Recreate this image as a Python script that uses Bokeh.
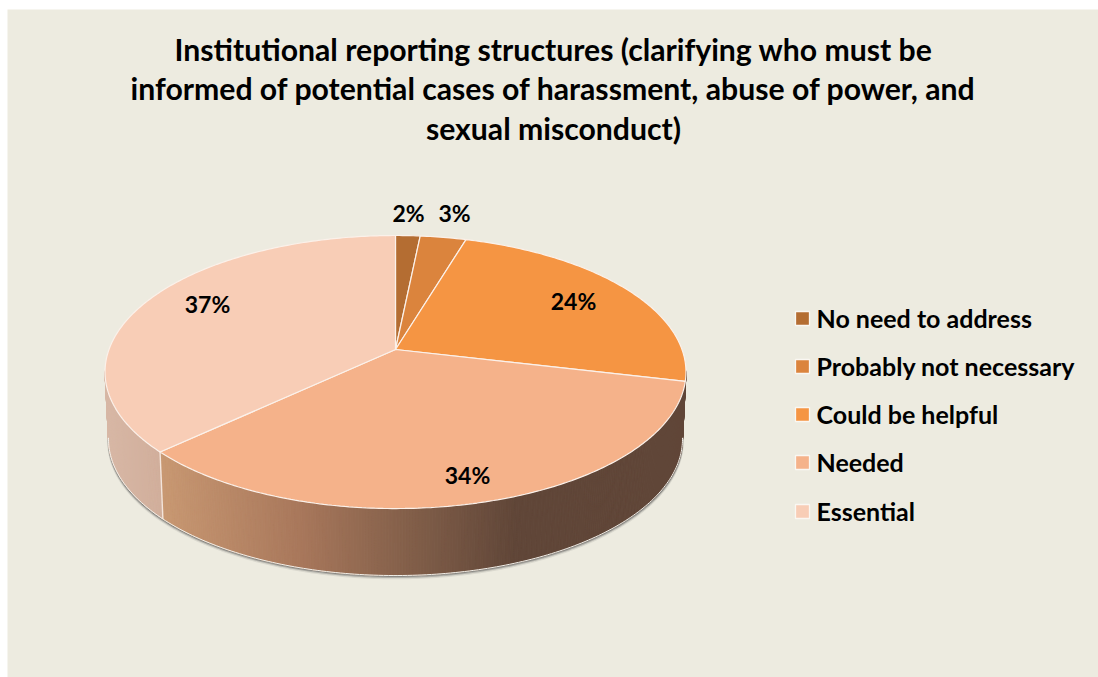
import numpy as np
from bokeh.models import Range1d
from bokeh.plotting import figure
from bokeh.embed import file_html
from bokeh.resources import INLINE
from bokeh.core.properties import value

# ---- chart data ----
categories = ["No need to address", "Probably not necessary", "Could be helpful", "Needed", "Essential"]
percent_labels = [2, 3, 24, 34, 37]
shares = [1.6, 3.0, 24.1, 34.3, 37.0]   # unrounded shares
colors = ["#B46D32", "#DB843D", "#F59543", "#F5B28A", "#F8CDB6"]
title_lines = [
    "Institutional reporting structures (clarifying who must be",
    "informed of potential cases of harassment, abuse of power, and",
    "sexual misconduct)",
]

# ---- layout ----
W, H = 1098, 677
BG = "#EDEBE0"
FONT = "Lato"
APEX_X, APEX_Y = 395.0, 349.0      # centre of the pie
A, B, K = 286.5, 132.8, 0.165      # perspective parameters of the tilted disc
DEPTH = 67.0
SHRINK = 0.988                     # lower rim is slightly smaller than the top one
LEFT, TOP = 7, 9                   # white strip left of and above the panel

p = figure(width=W, height=H, output_backend="svg", toolbar_location=None,
           x_range=Range1d(LEFT, W), y_range=Range1d(H, TOP),
           background_fill_color=BG, border_fill_color="#FFFFFF",
           min_border_left=LEFT, min_border_top=TOP, min_border_right=0, min_border_bottom=0,
           outline_line_color=None)
p.axis.visible = False
p.grid.visible = False


def rim(theta, dy=0.0, shrink=1.0):
    """Project an angle (clockwise from the top) on to the disc's edge."""
    d = 1 + K * np.cos(theta)
    return APEX_X + shrink * A * np.sin(theta) / d, APEX_Y + dy + B * (-np.cos(theta)) / d


def mix(stops, x):
    xs = [s[0] for s in stops]
    c = [np.interp(x, xs, [s[1][i] for s in stops]) for i in range(3)]
    return "#%02X%02X%02X" % tuple(int(round(v)) for v in c)


fractions = np.array(shares, float) / sum(shares)
edges = np.concatenate([[0.0], np.cumsum(fractions)]) * 2 * np.pi
n_high = edges[4]  # start of "Essential"
WALL_A, WALL_B = np.deg2rad(99), np.deg2rad(261)

# --- soft shadow under the rim ---
ts = np.linspace(WALL_A, WALL_B, 200)
sx, sy = rim(ts, DEPTH, SHRINK)
for off, alpha, lw in ((2.5, 0.12, 2.5), (1.5, 0.30, 2), (0.8, 0.5, 1.2)):
    p.line(sx, sy + off, line_color="#555555", line_alpha=alpha, line_width=lw)

# --- side wall, as narrow quads shaded by horizontal position ---
left_stops = [(100, (0xD8, 0xB8, 0xA6)), (166, (0xD0, 0xAD, 0x9A))]
right_stops = [(160, (0xC8, 0x98, 0x72)), (300, (0xA8, 0x77, 0x5B)), (400, (0x85, 0x61, 0x4B)),
               (515, (0x60, 0x46, 0x38)), (700, (0x60, 0x46, 0x38))]

t_side = np.linspace(WALL_A, WALL_B, 330)
xs_list, ys_list, fills = [], [], []
for t0, t1 in zip(t_side[:-1], t_side[1:]):
    x0, y0 = rim(t0)
    x1, y1 = rim(t1)
    bx0, by0 = rim(t0, DEPTH, SHRINK)
    bx1, by1 = rim(t1, DEPTH, SHRINK)
    stops = left_stops if (t0 + t1) / 2 > n_high else right_stops
    xs_list.append([x0, x1, bx1, bx0])
    ys_list.append([y0, y1, by1, by0])
    fills.append(mix(stops, (x0 + x1) / 2))
p.patches(xs_list, ys_list, fill_color=fills, line_color=fills, line_width=1.0)

# seam between the two visible wall segments
sx0, sy0 = rim(n_high)
sx1, sy1 = rim(n_high, DEPTH, SHRINK)
p.line([sx0, sx1], [sy0, sy1], line_color="#F3E4DB", line_width=1.4)

# thin light edge along the wall's lower rim
lx, ly = rim(ts, DEPTH, SHRINK)
p.line(lx, ly, line_color="#F2F0EA", line_width=1.0)

# --- top face ---
for frac0, frac1, col in zip(edges[:-1], edges[1:], colors):
    t = np.linspace(frac0, frac1, max(3, int((frac1 - frac0) * 80)))
    x, y = rim(t)
    p.patch(np.r_[APEX_X, x], np.r_[APEX_Y, y], fill_color=col, line_color="#FBF1EA", line_width=1.2)

# --- percent labels ---
label_x = [408, 454, 573, 467, 207]
label_y = [212, 212, 300, 474, 303]
p.text(label_x, label_y, text=[f"{v}%" for v in percent_labels], text_font=value(FONT), text_font_style="bold",
       text_font_size="23px", text_color="#000000", text_align="center", text_baseline="middle")

# --- title ---
for line, y in zip(title_lines, [48, 87, 127]):
    p.text([553], [y], text=[line], text_font=value(FONT), text_font_style="bold", text_font_size="30.2px",
           text_color="#000000", text_align="center", text_baseline="middle")

# --- legend ---
legend_y = [317, 365, 413, 461, 510]
p.scatter([802] * 5, [y + 1 for y in legend_y], marker="square", size=14, fill_color=colors,
          line_color="#FAF7F2", line_width=1.3)
p.text([816] * 5, legend_y, text=categories, text_font=value(FONT), text_font_style="bold",
       text_font_size="25px", text_color="#000000", text_align="left", text_baseline="middle")

open("out.html", "w").write(file_html(p, INLINE))
